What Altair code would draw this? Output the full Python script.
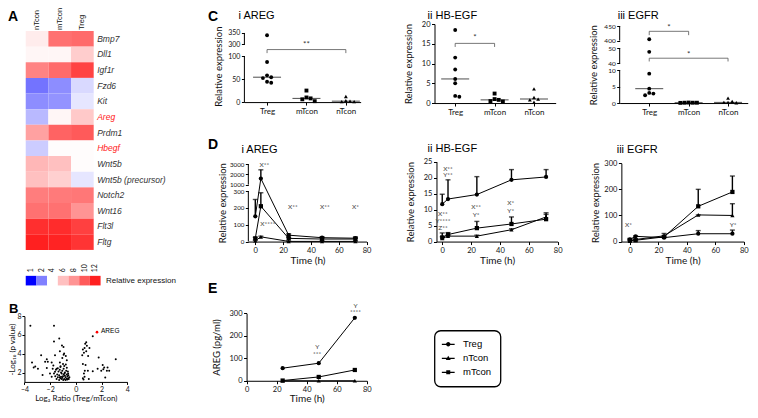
import altair as alt
import numpy as np
import pandas as pd

W, H = 742, 396


def PX(p):
    return round((p - 4) * 0.985, 2)


def PY(p):
    return round((p - 5) * 0.96, 2)


FONT = "Lato"
TFONT = "Liberation Sans"

# ---------------- data ----------------
genes = ["Bmp7", "Dll1", "Igf1r", "Fzd6", "Kit", "Areg", "Prdm1", "Hbegf",
         "Wnt5b", "Wnt5b (precursor)", "Notch2", "Wnt16", "Flt3l", "Fltg"]
hm_groups = ["nTcon", "mTcon", "Treg"]
hm_nTcon = [4.6, 4.3, 8.6, 1.9, 2.2, 2.9, 7.4, 3.2, 6.4, 6.0, 8.8, 9.2, 11.5, 12.0]
hm_mTcon = [9.2, 4.3, 9.4, 2.2, 2.3, 4.3, 9.7, 4.1, 6.0, 5.5, 8.9, 9.2, 11.6, 11.9]
hm_Treg = [9.4, 5.6, 10.8, 3.4, 3.6, 5.7, 10.0, 4.1, 4.1, 3.6, 9.0, 8.0, 10.9, 11.3]
red_genes = ["Areg", "Hbegf"]
heat_legend_vals = [1, 2, 4, 6, 8, 10, 12]
heat_colors = ["#0000ff", "#8080ff", "#ffffff", "#ffc0c0", "#ff9494", "#ff5a5a", "#ff2020"]

volcano_left_x = [-3.54, -1.70, -1.29, -1.70, -1.08, -0.96, -1.24, -0.91, -0.78, -1.62, -2.70, -2.26,
                  -1.88, -3.41, -2.39, -2.18, -3.16, -3.28, -2.95, -2.26, -2.59, -1.80, -1.75, -1.24,
                  -1.19, -1.49, -2.01, -1.88, -1.62, -1.05, -0.70, -0.95]
volcano_left_y = [6.98, 6.98, 5.63, 5.29, 4.88, 4.71, 4.27, 4.03, 3.76, 3.83, 3.83, 3.42,
                  3.08, 3.08, 3.15, 3.15, 2.64, 2.54, 2.41, 2.47, 1.73, 2.41, 2.75, 3.08,
                  2.68, 2.41, 1.90, 1.56, 2.07, 3.55, 3.30, 3.90]
volcano_cluster_x = [-1.5, -1.4, -1.3, -1.2, -1.1, -1.0, -0.9, -0.8, -0.7, -0.6, -1.35, -1.25, -1.15,
                     -1.05, -0.95, -0.85, -0.75, -0.65, -0.55, -1.45, -1.3, -1.2, -1.1, -0.95, -0.9,
                     -0.8, -0.7, -0.6, -0.5, -1.0, -1.25, -1.05, -0.85, -0.72, -0.62, -1.4, -1.15,
                     -0.98, -0.88, -0.78, -0.66, -0.58, -1.6, -1.7, -1.55]
volcano_cluster_y = [1.3, 1.5, 1.7, 1.4, 1.9, 1.6, 1.3, 1.5, 1.8, 1.4, 2.1, 2.3, 2.0,
                     2.2, 2.4, 2.0, 2.2, 1.6, 1.3, 1.8, 1.2, 2.6, 1.3, 1.8, 2.7,
                     1.2, 2.5, 1.9, 1.5, 2.9, 1.5, 1.45, 1.65, 1.35, 2.1, 2.45, 1.55,
                     1.2, 1.9, 2.85, 1.25, 1.7, 1.6, 1.9, 2.3]
volcano_right_x = [1.32, 0.81, 0.73, 0.86, 0.68, 0.55, 0.81, 0.63, 0.96, 0.50, 1.06, 1.78, 2.09,
                   2.21, 3.11, 2.47, 2.14, 1.98, 2.42, 1.32, 1.70, 2.29, 0.68, 0.55, 0.70, 0.94,
                   0.55, 0.76, 1.01, 0.63, 2.60, 0.60]
volcano_right_y = [5.86, 5.22, 5.05, 4.85, 4.61, 4.44, 4.27, 4.10, 3.76, 3.83, 4.61, 3.59, 2.81,
                   2.54, 3.42, 2.54, 2.34, 2.20, 2.20, 2.14, 2.41, 1.46, 1.56, 1.39, 2.20, 2.20,
                   2.92, 2.81, 1.32, 1.90, 2.20, 1.25]
areg_point = {"x": 1.65, "y": 6.3}

cats = ["Treg", "mTcon", "nTcon"]
series = ["Treg", "nTcon", "mTcon"]

c_areg = {"Treg": [340, 87, 58, 54, 52, 44, 42], "mTcon": [25, 10, 8, 6, 2], "nTcon": [12, 3, 2, 1, 1]}
c_hbegf = {"Treg": [18.5, 11.5, 8.5, 6.1, 5.0, 1.8, 1.6], "mTcon": [2.4, 1.0, 0.8, 0.5, 0.4],
           "nTcon": [3.6, 1.4, 1.0, 0.8, 0.2]}
c_egfr = {"Treg": [405, 47.5, 9.0, 4.4, 3.1, 2.9, 2.4], "mTcon": [0.15, 0.1, 0.1, 0.1, 0.05],
          "nTcon": [1.5, 0.5, 0.2, 0.2, 0.1]}

d_times = [0, 4, 24, 48, 72]
d_areg_mean = {"Treg": [150, 1600, 38, 23, 20], "mTcon": [19, 210, 19, 15, 15], "nTcon": [5, 28, 1, 1, 1]}
d_areg_upper = {"Treg": [250, 2450, 46, 29, 28], "mTcon": [25, 290, 25, 21, 21], "nTcon": [8, 32, 3, 3, 3]}
d_hbegf_mean = {"Treg": [11.7, 13.3, 14.7, 19.3, 20.2], "mTcon": [1.3, 2.2, 4.2, 5.5, 7.0],
                "nTcon": [1.0, 1.7, 1.7, 3.7, 7.7]}
d_hbegf_upper = {"Treg": [14.8, 19.3, 20.3, 22.5, 22.5], "mTcon": [2.7, 2.8, 6.3, 7.7, 9.0],
                 "nTcon": [1.5, 2.0, 2.0, 4.0, 8.5]}
d_egfr_mean = {"Treg": [8, 20, 15, 30, 30], "mTcon": [5, 5, 18, 135, 190], "nTcon": [2, 8, 22, 102, 100]}
d_egfr_upper = {"Treg": [12, 22, 18, 42, 44], "mTcon": [8, 8, 22, 200, 251], "nTcon": [4, 10, 31, 102, 145]}

e_times = [24, 48, 72]
e_mean = {"Treg": [56, 78, 280], "mTcon": [1, 17, 48], "nTcon": [0, 0, 0]}

d_areg_notes = [("X**", 6.5, 2900), ("X****", 9, 104), ("X**", 27, 205), ("X**", 50, 205), ("X*", 72, 205)]
d_hbegf_notes = [("X**", 4, 22.7), ("Y**", 4, 20.7), ("X**", 0.5, 8.7), ("Y****", 0.5, 6.5),
                 ("Z**", 0.5, 4.3), ("X**", 23.5, 10.9), ("Y*", 23.5, 8.3), ("X*", 47.5, 12.0),
                 ("Y*", 47.5, 9.7)]
d_egfr_notes = [("X*", -1, 65), ("Y*", 72.5, 65)]
e_notes = [("Y", 47, 149), ("***", 47, 120), ("Y", 72.5, 333), ("****", 72.5, 304)]

# broken-axis segments: (value0, value1, px0, px1)
CI_SEGS = [(0, 100, 0, 48), (300, 350, 60, 72)]
CIII_SEGS = [(0, 10, 0, 34), (40, 50, 41.3, 57.3), (400, 450, 65, 80)]
DI_SEGS = [(0, 300, 0, 52.6), (1000, 3000, 59.3, 80.6)]


# ---------------- helpers ----------------
def piecewise(segs):
    def f(v):
        for v0, v1, t0, t1 in segs:
            if v <= v1:
                return t0 + (v - v0) * (t1 - t0) / (v1 - v0)
        v0, v1, t0, t1 = segs[-1]
        return t0 + (v - v0) * (t1 - t0) / (v1 - v0)
    return f


def ident(v):
    return float(v)


def label_expr(ticks, f):
    s = ""
    for v in ticks:
        s += f"abs(datum.value - {f(v):.4f}) < 0.01 ? '{v:g}' : "
    return s + "''"


def swarm(tpx, d=4.2):
    order = sorted(range(len(tpx)), key=lambda i: -tpx[i])
    placed, offs = [], [0.0] * len(tpx)
    for i in order:
        t = tpx[i]
        dx = 0
        for k in [0, 1, -1, 2, -2, 3, -3, 4, -4]:
            dx = k * d
            if all((dx - px) ** 2 + (t - py) ** 2 >= (d * 0.95) ** 2 for px, py in placed):
                break
        placed.append((dx, t))
        offs[i] = dx
    return offs


plain_shapes = alt.Scale(domain=series, range=["circle", "triangle-up", "square"])


def cat_panel(gdata, f, ppu, ticks, segs, x_left, x_treg, x_right, y0, ytop, brackets, stars, lfs=7.5):
    xdom = [(x_left - x_treg) / 40.0, (x_right - x_treg) / 40.0]
    xsc = alt.Scale(domain=xdom, range=[PX(x_left), PX(x_right)], nice=False, zero=False)
    ysc = alt.Scale(domain=[0, (y0 - ytop) / ppu], range=[PY(y0), PY(ytop)], nice=False, zero=False)
    xax = alt.Axis(orient="bottom", offset=PY(y0) - H, values=[0, 1, 2],
                   labelExpr="['Treg','mTcon','nTcon'][datum.value]", title=None,
                   labelFontSize=8, labelPadding=2)
    yax = alt.Axis(orient="left", offset=-PX(x_left), values=[f(v) for v in ticks],
                   labelExpr=label_expr(ticks, f), title="Relative expression", labelFontSize=lfs,
                   domain=segs is None, minExtent=19, maxExtent=19, titlePadding=2)
    X = alt.X("xi:Q", scale=xsc, axis=xax)
    Y = alt.Y("t:Q", scale=ysc, axis=yax)

    rows, med = [], []
    for gi, g in enumerate(cats):
        vals = gdata[g]
        offs = swarm([f(v) * ppu for v in vals])
        for v, o in zip(vals, offs):
            rows.append({"grp": g, "xi": gi + o / 40.0, "t": f(v)})
        med.append({"grp": g, "xi": gi, "t": f(float(np.median(vals)))})
    pts = alt.Chart(pd.DataFrame(rows)).mark_point(filled=True, size=15, opacity=1, color="black").encode(
        x=X, y=Y, shape=alt.Shape("grp:N", scale=plain_shapes, legend=None))
    mtick = alt.Chart(pd.DataFrame(med)).mark_tick(orient="horizontal", size=28, thickness=1,
                                                   color="black").encode(x=X, y=Y)
    hb = pd.DataFrame([{"xi": a, "xi2": b, "t": tl} for a, b, tl, tg in brackets])
    legs = pd.DataFrame([{"xi": x, "t": tl, "t2": tg} for a, b, tl, tg in brackets for x in (a, b)])
    hline = alt.Chart(hb).mark_rule(color="#555", strokeWidth=0.8).encode(x=X, x2="xi2:Q", y=Y)
    vleg = alt.Chart(legs).mark_rule(color="#555", strokeWidth=0.8).encode(x=X, y=Y, y2="t2:Q")
    st = alt.Chart(pd.DataFrame([{"s": s, "xi": x, "t": t} for s, x, t in stars])).mark_text(
        fontSize=8, color="#333", font=FONT, baseline="middle").encode(x=X, y=Y, text="s:N")
    layers = [hline, vleg, st, mtick, pts]
    if segs is not None:
        sd = pd.DataFrame([{"xi": xdom[0], "t": t0, "t2": t1} for v0, v1, t0, t1 in segs])
        layers.append(alt.Chart(sd).mark_rule(color="black", strokeWidth=1).encode(x=X, y=Y, y2="t2:Q"))
    return alt.layer(*layers)


def time_panel(times, means, uppers, f, ppu, ticks, segs, x_left, x_right, xlo, y0, ytop, notes,
               ytitle="Relative expression", yext=19, ytpad=2, xtpad=2, lfs=7.5):
    xsc = alt.Scale(domain=[xlo, 80], range=[PX(x_left), PX(x_right)], nice=False, zero=False)
    ysc = alt.Scale(domain=[0, (y0 - ytop) / ppu], range=[PY(y0), PY(ytop)], nice=False, zero=False)
    xax = alt.Axis(orient="bottom", offset=PY(y0) - H, values=[0, 20, 40, 60, 80], title="Time (h)",
                   titleFontSize=10, titlePadding=xtpad)
    yax = alt.Axis(orient="left", offset=-PX(x_left), values=[f(v) for v in ticks],
                   labelExpr=label_expr(ticks, f), title=ytitle, domain=segs is None, labelFontSize=lfs,
                   minExtent=yext, maxExtent=yext, titlePadding=ytpad)
    X = alt.X("time:Q", scale=xsc, axis=xax)
    Y = alt.Y("t:Q", scale=ysc, axis=yax)
    rows = []
    for g in series:
        for i, tm in enumerate(times):
            r = {"grp": g, "time": tm, "t": f(means[g][i])}
            r["t2"] = f(uppers[g][i]) if uppers else r["t"]
            rows.append(r)
    df = pd.DataFrame(rows)
    base = alt.Chart(df)
    layers = [base.mark_line(color="black", strokeWidth=1).encode(x=X, y=Y, detail="grp:N")]
    if uppers:
        layers.append(base.mark_rule(color="black", strokeWidth=1.4).encode(x=X, y=Y, y2="t2:Q"))
        layers.append(base.mark_tick(orient="horizontal", size=5, thickness=1.4, color="black").encode(
            x=X, y=alt.Y("t2:Q", scale=ysc, axis=yax)))
    layers.append(base.mark_point(filled=True, size=18, opacity=1, color="black").encode(
        x=X, y=Y, shape=alt.Shape("grp:N", scale=plain_shapes, legend=None)))
    nd = pd.DataFrame([{"s": s, "time": x, "t": f(v)} for s, x, v in notes])
    layers.append(alt.Chart(nd).mark_text(fontSize=6.5, color="#444", font=FONT, baseline="middle").encode(
        x=X, y=Y, text="s:N"))
    if segs is not None:
        sd = pd.DataFrame([{"time": xlo, "t": t0, "t2": t1} for v0, v1, t0, t1 in segs])
        layers.append(alt.Chart(sd).mark_rule(color="black", strokeWidth=1).encode(x=X, y=Y, y2="t2:Q"))
    return alt.layer(*layers)


def stext(txt, x, y, size, weight="normal"):
    return alt.Chart(alt.Data(values=[{}])).mark_text(
        text=txt, fontSize=size, fontWeight=weight, font=TFONT, align="left",
        baseline="alphabetic", color="black").encode(x=alt.value(max(0, PX(x))), y=alt.value(PY(y)))


# ---------------- panel A ----------------
heat_rows = []
for gi, g in enumerate(genes):
    for c, arr in zip(hm_groups, [hm_nTcon, hm_mTcon, hm_Treg]):
        heat_rows.append({"gene": g, "group": c, "value": arr[gi]})
heat_scale = alt.Scale(domain=heat_legend_vals, range=heat_colors, type="linear", interpolate="rgb")
red_test = " || ".join(f"datum.value == '{g}'" for g in red_genes)
heat = alt.Chart(pd.DataFrame(heat_rows)).mark_rect().encode(
    x=alt.X("group:N", scale=alt.Scale(domain=hm_groups, range=[PX(22), PX(91)], paddingInner=0, paddingOuter=0),
            axis=alt.Axis(orient="top", offset=-23, labelAngle=-90, title=None, ticks=False, domain=False,
                          labelFont=TFONT, labelFontSize=7.5, labelPadding=1.5)),
    y=alt.Y("gene:N", scale=alt.Scale(domain=genes, range=[23, PY(257)], paddingInner=0, paddingOuter=0),
            axis=alt.Axis(orient="right", offset=PX(91) - W, title=None, ticks=False, domain=False,
                          labelFont=TFONT, labelFontSize=8.5, labelFontStyle="italic", labelPadding=3,
                          labelColor={"condition": {"test": red_test, "value": "#ff2020"}, "value": "#333333"})),
    color=alt.Color("value:Q", scale=heat_scale, legend=None),
)
heat_leg = alt.Chart(pd.DataFrame({"lab": [str(v) for v in heat_legend_vals], "value": heat_legend_vals,
                                   "name": ["Relative expression"] * len(heat_legend_vals)})).mark_rect().encode(
    x=alt.X("lab:N", scale=alt.Scale(domain=[str(v) for v in heat_legend_vals], range=[PX(22), PX(98)],
                                     paddingInner=0, paddingOuter=0),
            axis=alt.Axis(orient="top", offset=-PY(284), labelAngle=-90, title=None, ticks=False, domain=False,
                          labelFontSize=7, labelPadding=4)),
    y=alt.Y("name:N", scale=alt.Scale(range=[PY(284), PY(294)], paddingInner=0, paddingOuter=0),
            axis=alt.Axis(orient="right", offset=PX(98) - W, title=None, ticks=False, domain=False,
                          labelFont=TFONT, labelFontSize=8, labelPadding=5)),
    color=alt.Color("value:Q", scale=heat_scale, legend=None),
)

# ---------------- panel B ----------------
vx = volcano_left_x + volcano_cluster_x + volcano_right_x
vy = volcano_left_y + volcano_cluster_y + volcano_right_y
bx = alt.X("x:Q", scale=alt.Scale(domain=[-4, 4], range=[PX(20.7), PX(125)], nice=False, zero=False),
           axis=alt.Axis(orient="bottom", offset=PY(394.5) - H, values=[-4, -2, 0, 2, 4],
                         title="Log₂ Ratio (Treg/mTcon)", titleFontSize=8, titlePadding=2,
                         labelFontSize=7, labelPadding=1, tickSize=2.5))
by = alt.Y("y:Q", scale=alt.Scale(domain=[1, 8], range=[PY(394.5), PY(326)], nice=False, zero=False),
           axis=alt.Axis(orient="left", offset=-PX(20.7), values=[2, 4, 6, 8], title="-Log₁₀ (p value)",
                         titleFontSize=8, titlePadding=0, labelFontSize=7, labelPadding=1, tickSize=2.5))
b_pts = alt.Chart(pd.DataFrame({"x": vx, "y": vy})).mark_circle(size=4, color="black", opacity=1).encode(x=bx, y=by)
b_areg = alt.Chart(pd.DataFrame([areg_point])).mark_circle(size=7, color="red", opacity=1).encode(x=bx, y=by)
b_lab = alt.Chart(pd.DataFrame([areg_point])).mark_text(text="AREG", fontSize=6.5, font=TFONT, align="left",
                                                       dx=4, dy=-1, color="black").encode(x=bx, y=by)
panel_b = alt.layer(b_pts, b_areg, b_lab)

# ---------------- panel C ----------------
fCI = piecewise(CI_SEGS)
fCIII = piecewise(CIII_SEGS)
c1 = cat_panel(c_areg, fCI, 1.0, [0, 50, 100, 300, 350], CI_SEGS, 244, 267, 362, 103, 28,
               [(0, 2, 54.7, 51.0)], [("**", 1, 59)], lfs=7)
c2 = cat_panel(c_hbegf, ident, 4.115, [0, 5, 10, 15, 20], None, 437, 458, 560, 104, 21.7,
               [(0, 1, 15.1, 14.2)], [("*", 0.5, 16.4)])
c3 = cat_panel(c_egfr, fCIII, 1.0, [0, 5, 10, 40, 50, 400, 450], CIII_SEGS, 625, 655, 755, 104, 24,
               [(0, 1, 74.7, 70.7), (0, 2, 46.7, 43.3)], [("*", 0.5, 78.5), ("*", 1, 50)], lfs=6.5)

# ---------------- panel D ----------------
fDI = piecewise(DI_SEGS)
d1 = time_panel(d_times, d_areg_mean, d_areg_upper, fDI, 1.0, [0, 100, 200, 300, 1000, 2000, 3000], DI_SEGS,
                248, 368, -5, 248.3, 167.3, d_areg_notes, lfs=6.2)
d2 = time_panel(d_times, d_hbegf_mean, d_hbegf_upper, ident, 3.332, [0, 5, 10, 15, 20, 25], None,
                439, 562, -4, 248.3, 165, d_hbegf_notes)
d3 = time_panel(d_times, d_egfr_mean, d_egfr_upper, ident, 0.272, [0, 100, 200, 300], None,
                626.7, 751, -6, 248.3, 166.7, d_egfr_notes)

# ---------------- panel E ----------------
e1 = time_panel(e_times, e_mean, None, ident, 0.2343, [0, 100, 200, 300], None,
                246.2, 368.3, 0, 393.3, 323, e_notes, ytitle="AREG (pg/ml)", yext=17, ytpad=8, xtpad=1)

# ---------------- series legend ----------------
BAR = "M-1.6,-0.16H1.6V0.16H-1.6Z"
CIRC_PATH = BAR + "M0.55,0A0.55,0.55,0,1,1,-0.55,0A0.55,0.55,0,1,1,0.55,0Z"
TRI_PATH = BAR + "M0,-0.62L0.62,0.45L-0.62,0.45Z"
SQ_PATH = BAR + "M-0.5,-0.5H0.5V0.5H-0.5Z"
legend_layer = alt.Chart(pd.DataFrame({"grp": series})).mark_point(filled=True, opacity=0, color="black").encode(
    x=alt.value(-30), y=alt.value(-30),
    shape=alt.Shape("grp:N", scale=alt.Scale(domain=series, range=[CIRC_PATH, TRI_PATH, SQ_PATH]),
                    legend=alt.Legend(title=None, orient="none", legendX=PX(437), legendY=PY(341),
                                      padding=9, strokeColor="black", cornerRadius=6, fillColor="white",
                                      symbolSize=64, symbolFillColor="black", symbolStrokeColor="black",
                                      symbolStrokeWidth=0, symbolOpacity=1, labelFont=TFONT,
                                      labelFontSize=9.5, labelOffset=10, rowPadding=3)),
)

# ---------------- static texts ----------------
texts = [
    stext("A", 3, 19, 14, "bold"), stext("B", 5, 323, 13, "bold"), stext("C", 207, 19, 14, "bold"),
    stext("D", 207, 152, 14, "bold"), stext("E", 207, 302, 14, "bold"),
    stext("i AREG", 238, 16, 11), stext("ii HB-EGF", 430, 16, 11), stext("iii EGFR", 623, 16, 11),
    stext("i AREG", 241, 156, 11), stext("ii HB-EGF", 430, 155, 11), stext("iii EGFR", 622, 156, 11),
]

chart = alt.layer(heat, heat_leg, panel_b, c1, c2, c3, d1, d2, d3, e1, legend_layer, *texts).resolve_scale(
    x="independent", y="independent", shape="independent"
).properties(
    width=W, height=H, autosize=alt.AutoSizeParams(type="none"), padding=0
).configure_view(strokeWidth=0).configure_axis(
    grid=False, domainColor="black", tickColor="black", labelColor="#111", labelFont=FONT,
    labelFontSize=7.5, titleFont=FONT, titleFontSize=9.5, titleFontWeight="normal", titleColor="#111",
    tickSize=3, labelPadding=1.5, domainWidth=1, tickWidth=1, labelOverlap=False, labelFlush=False
).configure_legend(strokeWidth=1.3)

chart.save("out.html", embed_options={"renderer": "svg", "actions": False})
